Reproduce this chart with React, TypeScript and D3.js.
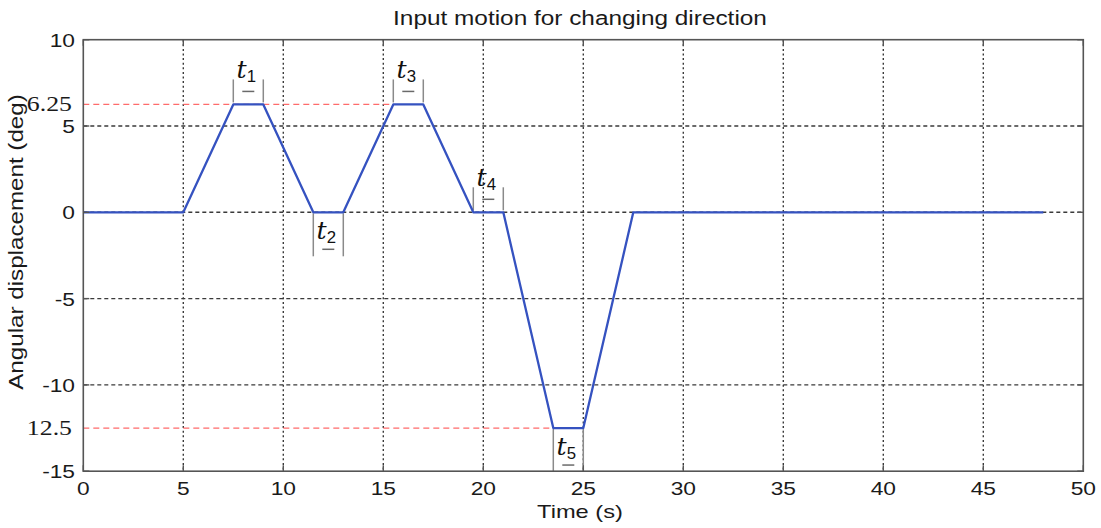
import React from "react";
import * as d3 from "d3";

// Input motion profile: time (s) and angular displacement (deg)
const timeS = [0, 5, 7.5, 9, 11.5, 13, 15.5, 17, 19.5, 21, 23.5, 25, 27.5, 48];
const angleDeg = [0, 0, 6.25, 6.25, 0, 0, 6.25, 6.25, 0, 0, -12.5, -12.5, 0, 0];

const xTicks = [0, 5, 10, 15, 20, 25, 30, 35, 40, 45, 50];
const yTicks = [10, 5, 0, -5, -10, -15];

// Extra annotated levels on the y axis (label text as printed)
const refLevels = [6.25, -12.5];
const refLabels = ["6.25", "12.5"];
const refEnds = [15.5, 23.5];

// Hold intervals t1..t5
const holdNames = ["1", "2", "3", "4", "5"];
const holdStart = [7.5, 11.5, 15.5, 19.5, 23.5];
const holdEnd = [9, 13, 17, 21, 25];
const holdLevel = [6.25, 0, 6.25, 0, -12.5];
const holdAbove = [true, false, true, true, false];

const W = 1101;
const H = 528;
const plot = { left: 83.3, right: 1083.3, top: 39.7, bottom: 471.2 };

const SX = 1.23; // horizontal glyph stretch

function SText({ x, y, size, family, anchor = "middle", fill = "#1a1a1a", sx = SX, children, rotate = 0, style }: any) {
  const t = `translate(${x},${y})${rotate ? ` rotate(${rotate})` : ""} scale(${sx},1)`;
  return (
    <text transform={t} fontSize={size} fontFamily={family} textAnchor={anchor} fill={fill} style={style}>
      {children}
    </text>
  );
}

export default function App() {
  const x = d3.scaleLinear().domain([0, 50]).range([plot.left, plot.right]);
  const y = d3.scaleLinear().domain([-15, 10]).range([plot.bottom, plot.top]);

  const pts = timeS.map((t, i) => [t, angleDeg[i]] as [number, number]);
  const line = d3
    .line<[number, number]>()
    .x((d) => x(d[0]))
    .y((d) => y(d[1]));

  const sans = "'Liberation Sans', Arial, sans-serif";
  const serif = "'Liberation Serif', 'DejaVu Serif', serif";
  const mathSerif = "'DejaVu Serif', 'Liberation Serif', serif";
  const gridColor = "#3a3a3a";

  return (
    <svg width={W} height={H} style={{ position: "absolute", left: 0, top: 0, background: "#fff" }}>
      <rect x={0} y={0} width={W} height={H} fill="#fff" />

      {/* grid */}
      {xTicks.slice(1, -1).map((t) => (
        <line key={"gx" + t} x1={x(t)} x2={x(t)} y1={plot.top} y2={plot.bottom}
          stroke={gridColor} strokeWidth={1.4} strokeDasharray="2,2.6" />
      ))}
      {yTicks.slice(1, -1).map((t) => (
        <line key={"gy" + t} x1={plot.left} x2={plot.right} y1={y(t)} y2={y(t)}
          stroke={gridColor} strokeWidth={1.4} strokeDasharray="4,3" />
      ))}

      {/* reference levels */}
      {refLevels.map((v, i) => (
        <line key={"ref" + i} x1={plot.left} x2={x(refEnds[i])} y1={y(v)} y2={y(v)}
          stroke="#ff6b6b" strokeWidth={1.2} strokeDasharray="6,4" />
      ))}

      {/* hold interval brackets */}
      {holdNames.map((n, i) => {
        const x0 = x(holdStart[i]);
        const x1 = x(holdEnd[i]);
        const yl = y(holdLevel[i]);
        const cx = (x0 + x1) / 2;
        const up = holdAbove[i];
        const yA = up ? yl - 2 : yl + 1;
        const yB = up ? yl - 25 : Math.min(yl + 44, plot.bottom);
        const base = up ? yl - 26 : yl + 27;
        const dashY = up ? yl - 13 : yl + 37;
        return (
          <g key={"hold" + n}>
            <line x1={x0} x2={x0} y1={yA} y2={yB} stroke="#8a8a8a" strokeWidth={1.5} />
            <line x1={x1} x2={x1} y1={yA} y2={yB} stroke="#8a8a8a" strokeWidth={1.5} />
            <line x1={cx - 6} x2={cx + 6} y1={dashY} y2={dashY} stroke="#6a6a6a" strokeWidth={1.5} />
            <SText x={cx - 2} y={base} size={24} family={mathSerif} sx={1.05} fill="#111">
              <tspan fontStyle="italic">t</tspan>
              <tspan fontSize={16} fontFamily={sans} dy={4}>{n}</tspan>
            </SText>
          </g>
        );
      })}

      {/* motion profile */}
      <path d={line(pts) || ""} fill="none" stroke="#3552c0" strokeWidth={2.3} strokeLinejoin="round" />

      {/* frame and ticks */}
      <rect x={plot.left} y={plot.top} width={plot.right - plot.left} height={plot.bottom - plot.top}
        fill="none" stroke="#555" strokeWidth={1.6} />
      {xTicks.map((t) => (
        <g key={"tx" + t}>
          <line x1={x(t)} x2={x(t)} y1={plot.bottom} y2={plot.bottom - 6} stroke="#555" strokeWidth={1.4} />
          <line x1={x(t)} x2={x(t)} y1={plot.top} y2={plot.top + 6} stroke="#555" strokeWidth={1.4} />
        </g>
      ))}
      {yTicks.map((t) => (
        <g key={"ty" + t}>
          <line x1={plot.left} x2={plot.left + 6} y1={y(t)} y2={y(t)} stroke="#555" strokeWidth={1.4} />
          <line x1={plot.right} x2={plot.right - 6} y1={y(t)} y2={y(t)} stroke="#555" strokeWidth={1.4} />
        </g>
      ))}

      {/* tick labels */}
      {xTicks.map((t) => (
        <SText key={"lx" + t} x={x(t)} y={495} size={18.5} family={sans}>{String(t)}</SText>
      ))}
      {yTicks.map((t) => (
        <SText key={"ly" + t} x={75} y={y(t) + 7} size={18.5} family={sans} anchor="end">{String(t)}</SText>
      ))}
      {refLevels.map((v, i) => (
        <SText key={"lr" + i} x={72} y={y(v) + 6.5} size={21.5} family={serif} anchor="end" sx={1.2}>{refLabels[i]}</SText>
      ))}

      {/* titles */}
      <SText x={580} y={25} size={19.5} family={sans} sx={1.25}>Input motion for changing direction</SText>
      <SText x={580} y={518} size={18.5} family={sans} sx={1.28}>Time (s)</SText>
      <SText x={23} y={242} size={19.5} family={sans} rotate={-90} sx={1.24}>Angular displacement (deg)</SText>
    </svg>
  );
}
